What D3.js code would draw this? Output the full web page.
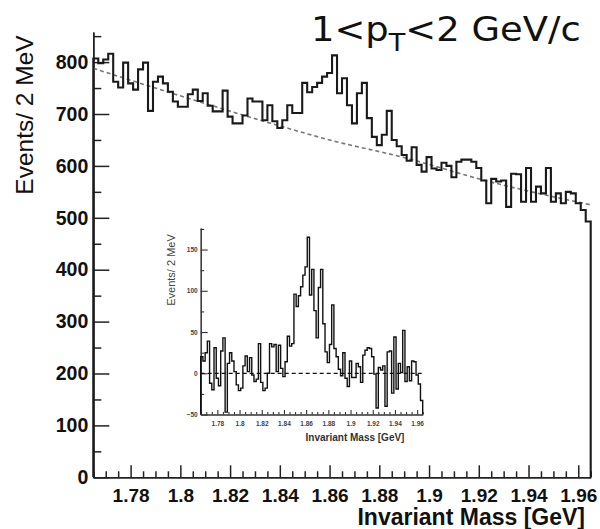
<!DOCTYPE html>
<html><head><meta charset="utf-8">
<script src="https://cdn.jsdelivr.net/npm/d3@7"></script>
<style>body{margin:0;background:#fff}</style></head>
<body><svg id="c" width="600" height="529"></svg>
<script>
// ---- data ----
const massMin = 1.765, massMax = 1.965, binWidth = 0.002;
const counts = [
 807,798,805,816,762,751,799,759,747,786,
 799,706,762,772,759,743,724,714,714,738,
 747,725,740,716,705,705,745,695,682,682,
 697,730,724,724,688,717,686,673,688,717,
 702,702,760,742,752,760,772,779,813,740,
 769,717,682,740,760,692,656,640,660,706,
 650,638,621,610,636,602,589,617,595,592,
 606,600,578,608,612,612,608,596,572,528,
 575,570,572,521,585,584,531,596,531,560,
 547,596,531,547,528,550,547,528,515,493];
const bgMass = [1.765,1.80,1.84,1.86,1.89,1.924,1.965];
const bgCounts = [788,735,677,650,616,570,525];
const residuals = [
 20,15,25,39,-12,-20,31,-6,-15,27,
 43,-47,12,25,15,2,-14,-21,-18,9,
 21,2,19,-2,-10,-7,36,-11,-21,-18,
 0,36,32,35,2,34,6,-4,14,45,
 33,36,96,81,94,105,119,129,165,95,
 126,76,43,104,126,60,26,13,35,83,
 30,20,5,-3,25,-6,-16,15,-5,-5,
 12,8,-11,22,28,31,30,20,-1,-42,
 7,4,9,-40,26,27,-24,44,-19,12,
 1,52,-10,8,-9,15,14,-2,-13,-33];
const xTicks = [1.78,1.80,1.82,1.84,1.86,1.88,1.90,1.92,1.94,1.96];
const yTicks = [0,100,200,300,400,500,600,700,800];
const insetYTicks = [-50,0,50,100,150];
const titleMain = "1<p", titleSub = "T", titleRest = "<2 GeV/c";
const yLabel = "Events/ 2 MeV", xLabel = "Invariant Mass [GeV]";

// ---- drawing ----
const svg = d3.select('#c');
const edges = d3.range(counts.length + 1).map(i => +(massMin + i * binWidth).toFixed(3));
const minorX = d3.range(0, 41).map(i => +(massMin + i * 0.005).toFixed(3))
  .filter(v => !xTicks.some(t => Math.abs(t - v) < 1e-6));

function histPath(vals, xs, ys, base) {
  const pts = [[xs(edges[0]), ys(base)]];
  vals.forEach((v, i) => { pts.push([xs(edges[i]), ys(v)]); pts.push([xs(edges[i + 1]), ys(v)]); });
  pts.push([xs(edges[edges.length - 1]), ys(base)]);
  return d3.line()(pts);
}

// main
const x = d3.scaleLinear().domain([massMin, massMax]).range([93.3, 590.7]);
const y = d3.scaleLinear().domain([0, 858]).range([477.3, 32]);

function styleAxis(g, fs, weight, col) {
  g.selectAll('path,line').attr('stroke', col).attr('stroke-width', 1.5);
  g.selectAll('text').attr('font-family', 'Liberation Sans, Arial, sans-serif')
    .attr('font-size', fs).attr('font-weight', weight).attr('fill', '#111');
  g.attr('font-size', null).attr('font-family', null);
}

const yMinor = d3.range(50, 858, 100);
const gyMin = svg.append('g').attr('transform', 'translate(93.3,0)')
  .call(d3.axisLeft(y).tickValues(yMinor).tickSizeInner(-8).tickSizeOuter(0).tickFormat(''));
styleAxis(gyMin, 19, 'bold', '#222');
const gy = svg.append('g').attr('transform', 'translate(93.3,0)')
  .call(d3.axisLeft(y).tickValues(yTicks).tickSizeInner(-16).tickSizeOuter(0).tickPadding(5).tickFormat(d3.format('d')));
styleAxis(gy, 19.5, 'bold', '#222');

const gxMin = svg.append('g').attr('transform', 'translate(0,477.3)')
  .call(d3.axisBottom(x).tickValues(minorX).tickSizeInner(-6).tickSizeOuter(0).tickFormat(''));
styleAxis(gxMin, 19, 'bold', '#222');
const gx = svg.append('g').attr('transform', 'translate(0,477.3)')
  .call(d3.axisBottom(x).tickValues(xTicks).tickSizeInner(-12).tickSizeOuter(0).tickPadding(11).tickFormat(d => String(d)));
styleAxis(gx, 19, 'bold', '#222');

// background fit
svg.append('path')
  .attr('d', d3.line().x((d, i) => x(bgMass[i])).y(d => y(d)).curve(d3.curveMonotoneX)(bgCounts))
  .attr('fill', 'none').attr('stroke', '#777').attr('stroke-width', 1.6).attr('stroke-dasharray', '4,3');

// histogram
svg.append('path').attr('d', histPath(counts, x, y, 0))
  .attr('fill', 'none').attr('stroke', '#1a1a1a').attr('stroke-width', 2.1);

// labels
svg.append('text').attr('transform', 'translate(33,115) rotate(-90)')
  .attr('text-anchor', 'middle').attr('font-family', 'Liberation Sans, Arial, sans-serif')
  .attr('font-size', 24.5).attr('fill', '#111').text(yLabel);
svg.append('text').attr('x', 585).attr('y', 525).attr('text-anchor', 'end')
  .attr('font-family', 'Liberation Sans, Arial, sans-serif').attr('font-weight', 'bold')
  .attr('font-size', 23).attr('fill', '#111').text(xLabel);

const title = svg.append('text').attr('transform', 'translate(311,41) scale(1.085,1)')
  .attr('font-family', 'DejaVu Sans, sans-serif').attr('font-size', 34).attr('fill', '#111');
title.append('tspan').text(titleMain);
title.append('tspan').attr('font-size', 25).attr('dy', 10).text(titleSub);
title.append('tspan').attr('dy', -10).text(titleRest);

// inset
const xi = d3.scaleLinear().domain([massMin, massMax]).range([200.7, 422.7]);
const yi = d3.scaleLinear().domain([-50, 176]).range([414.55, 228.1]);
const insetMinorY = d3.range(-25, 176, 50);

function styleInset(g) {
  g.selectAll('path,line').attr('stroke', '#333').attr('stroke-width', 1.1);
  g.selectAll('text').attr('font-family', 'Liberation Sans, Arial, sans-serif')
    .attr('font-size', 6.5).attr('font-weight', 'bold').attr('fill', '#444');
  g.attr('font-size', null).attr('font-family', null);
}
styleInset(svg.append('g').attr('transform', 'translate(200.7,0)')
  .call(d3.axisLeft(yi).tickValues(insetMinorY).tickSizeInner(-3.5).tickSizeOuter(0).tickFormat('')));
styleInset(svg.append('g').attr('transform', 'translate(200.7,0)')
  .call(d3.axisLeft(yi).tickValues(insetYTicks).tickSizeInner(-7).tickSizeOuter(0).tickPadding(3).tickFormat(d3.format('d'))));
styleInset(svg.append('g').attr('transform', 'translate(0,414.55)')
  .call(d3.axisBottom(xi).tickValues(minorX).tickSizeInner(-2.5).tickSizeOuter(0).tickFormat('')));
styleInset(svg.append('g').attr('transform', 'translate(0,414.55)')
  .call(d3.axisBottom(xi).tickValues(xTicks).tickSizeInner(-4.5).tickSizeOuter(0).tickPadding(7).tickFormat(d => String(d))));

svg.append('line').attr('x1', xi(massMin)).attr('x2', xi(massMax)).attr('y1', yi(0)).attr('y2', yi(0))
  .attr('stroke', '#111').attr('stroke-width', 1.2).attr('stroke-dasharray', '4,3');
svg.append('path').attr('d', histPath(residuals, xi, yi, -50))
  .attr('fill', 'none').attr('stroke', '#111').attr('stroke-width', 1.4);

svg.append('text').attr('transform', 'translate(175,270) rotate(-90)')
  .attr('text-anchor', 'middle').attr('font-family', 'Liberation Sans, Arial, sans-serif')
  .attr('font-size', 11).attr('fill', '#444').text(yLabel);
svg.append('text').attr('x', 355).attr('y', 441).attr('text-anchor', 'middle')
  .attr('font-family', 'Liberation Sans, Arial, sans-serif').attr('font-weight', 'bold')
  .attr('font-size', 10).attr('fill', '#333').text(xLabel);
</script></body></html>
